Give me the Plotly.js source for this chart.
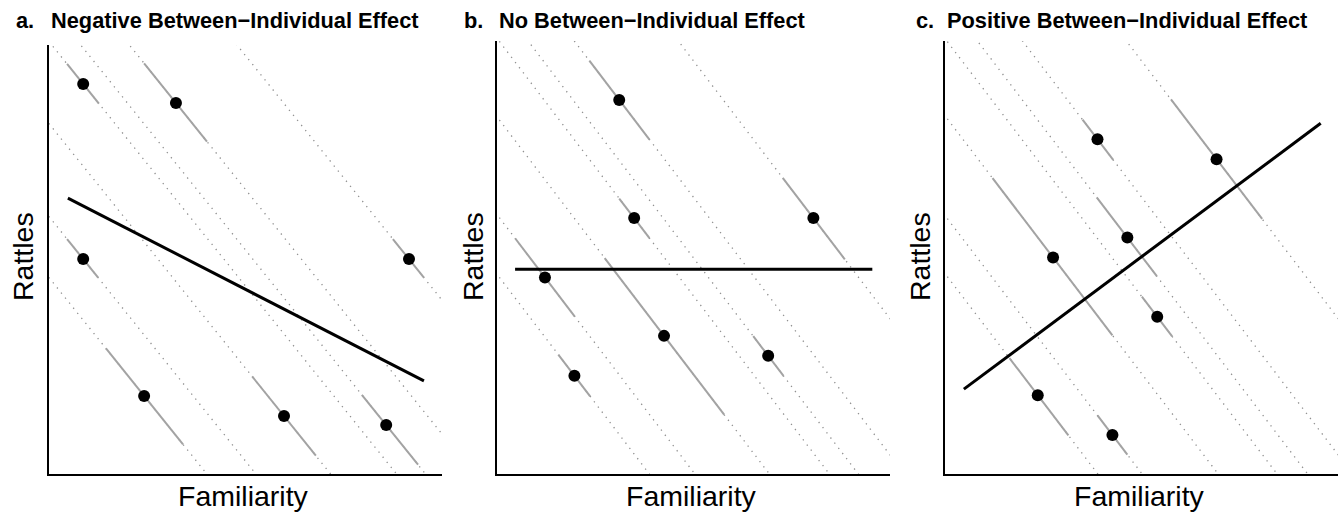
<!DOCTYPE html>
<html>
<head>
<meta charset="utf-8">
<script src="https://cdn.plot.ly/plotly-3.0.1.min.js"></script>
<style>html,body{margin:0;padding:0;background:#fff;}#chart{width:1342px;height:514px;}</style>
</head>
<body>
<div id="chart"></div>
<script>
// ---------- data ----------
const panelLetters = ["a.", "b.", "c."];
const panelTitles = ["Negative Between\u2212Individual Effect", "No Between\u2212Individual Effect", "Positive Between\u2212Individual Effect"];
const xLabel = "Familiarity";
const yLabel = "Rattles";

// panel a
const aPointX = [0.87, 3.23, 0.87, 9.16, 2.42, 5.98, 8.58];
const aPointY = [9.09, 8.65, 5.01, 5.01, 1.82, 1.35, 1.14];
const aSegStart = [0.46, 2.42, 0.46, 8.75, 1.45, 5.17, 7.96];
const aSegEnd   = [1.27, 4.02, 1.25, 9.54, 3.41, 6.79, 9.39];
const aWithinSlope = -1.14;
const aFitX = [0.48, 9.54];
const aFitY = [6.43, 2.17];

// panel b
const bPointX = [3.11, 3.49, 8.05, 1.22, 4.25, 6.90, 1.97];
const bPointY = [8.64, 5.91, 5.91, 4.54, 3.19, 2.73, 2.27];
const bSegStart = [2.35, 3.11, 7.27, 0.46, 2.74, 6.52, 1.56];
const bSegEnd   = [3.88, 3.88, 8.85, 1.98, 5.78, 7.29, 2.37];
const bWithinSlope = -1.19;
const bFitX = [0.46, 9.55];
const bFitY = [4.73, 4.73];

// panel c
const cPointX = [3.88, 6.91, 4.64, 2.75, 5.40, 2.36, 4.26];
const cPointY = [7.73, 7.27, 5.46, 5.00, 3.63, 1.82, 0.90];
const cSegStart = [3.50, 5.75, 3.86, 1.21, 5.01, 1.64, 3.88];
const cSegEnd   = [4.28, 8.07, 5.39, 4.26, 5.78, 3.14, 4.64];
const cWithinSlope = -1.19;
const cFitX = [0.48, 9.56];
const cFitY = [1.96, 8.10];

// ---------- build ----------
const panels = [
  {px: aPointX, py: aPointY, s0: aSegStart, s1: aSegEnd, slope: aWithinSlope, fx: aFitX, fy: aFitY},
  {px: bPointX, py: bPointY, s0: bSegStart, s1: bSegEnd, slope: bWithinSlope, fx: bFitX, fy: bFitY},
  {px: cPointX, py: cPointY, s0: cSegStart, s1: cSegEnd, slope: cWithinSlope, fx: cFitX, fy: cFitY}
];

const W = 1342, H = 514;
const boxes = [
  {l: 49, r: 442, t: 45, b: 474},
  {l: 497, r: 890, t: 41, b: 474},
  {l: 945, r: 1338, t: 41, b: 474}
];
const letterX = [14, 462, 914];
const rattlesX = [23, 473, 920];

const traces = [];
const layout = {
  width: W, height: H,
  margin: {l: 0, r: 0, t: 0, b: 0},
  paper_bgcolor: "#fff", plot_bgcolor: "#fff",
  showlegend: false,
  font: {family: "Liberation Sans, Arial, Helvetica, sans-serif", color: "#000"},
  annotations: []
};

panels.forEach((p, i) => {
  const sfx = i === 0 ? "" : String(i + 1);
  const xa = "x" + sfx, ya = "y" + sfx;
  const dx = [], dy = [];
  const sx = [], sy = [];
  p.px.forEach((x0, k) => {
    const y0 = p.py[k];
    const f = x => y0 + p.slope * (x - x0);
    dx.push(-20, 30, null); dy.push(f(-20), f(30), null);
    sx.push(p.s0[k], p.s1[k], null); sy.push(f(p.s0[k]), f(p.s1[k]), null);
  });
  traces.push({x: dx, y: dy, xaxis: xa, yaxis: ya, mode: "lines", hoverinfo: "skip",
    line: {color: "#909090", width: 1.3, dash: "1.3px,5.2px"}});
  traces.push({x: sx, y: sy, xaxis: xa, yaxis: ya, mode: "lines", hoverinfo: "skip",
    line: {color: "#a3a3a3", width: 2}});
  traces.push({x: p.fx, y: p.fy, xaxis: xa, yaxis: ya, mode: "lines", hoverinfo: "skip",
    line: {color: "#000", width: 3}});
  traces.push({x: p.px, y: p.py, xaxis: xa, yaxis: ya, mode: "markers", hoverinfo: "skip",
    marker: {color: "#000", size: 12}, cliponaxis: false});

  const bx = boxes[i];
  const axCommon = {showgrid: false, zeroline: false, showticklabels: false, ticks: "",
    showline: true, linecolor: "#000", linewidth: 2, mirror: false, fixedrange: true};
  layout["xaxis" + sfx] = Object.assign({}, axCommon, {range: [0, 10], domain: [bx.l / W, bx.r / W], anchor: ya});
  layout["yaxis" + sfx] = Object.assign({}, axCommon, {range: [0, 10], domain: [1 - bx.b / H, 1 - bx.t / H], anchor: xa});

  layout.annotations.push({xref: "paper", yref: "paper", x: letterX[i] / W, y: 1 - 21 / H,
    xanchor: "left", yanchor: "middle", showarrow: false, text: "<b>" + panelLetters[i] + "</b>",
    font: {size: 21.8}});
  layout.annotations.push({xref: "paper", yref: "paper", x: (bx.l) / W, y: 1 - 21 / H,
    xanchor: "left", yanchor: "middle", showarrow: false, text: "<b>" + panelTitles[i] + "</b>",
    font: {size: 21.8}});
  layout.annotations.push({xref: "paper", yref: "paper", x: ((bx.l + bx.r) / 2 - 2) / W, y: 1 - 496 / H,
    xanchor: "center", yanchor: "middle", showarrow: false, text: xLabel, font: {size: 28.5}});
  layout.annotations.push({xref: "paper", yref: "paper", x: rattlesX[i] / W, y: 1 - 257 / H,
    xanchor: "center", yanchor: "middle", showarrow: false, text: yLabel, textangle: -90, font: {size: 28.5}});
});

Plotly.newPlot("chart", traces, layout, {staticPlot: true, displayModeBar: false});
</script>
</body>
</html>
